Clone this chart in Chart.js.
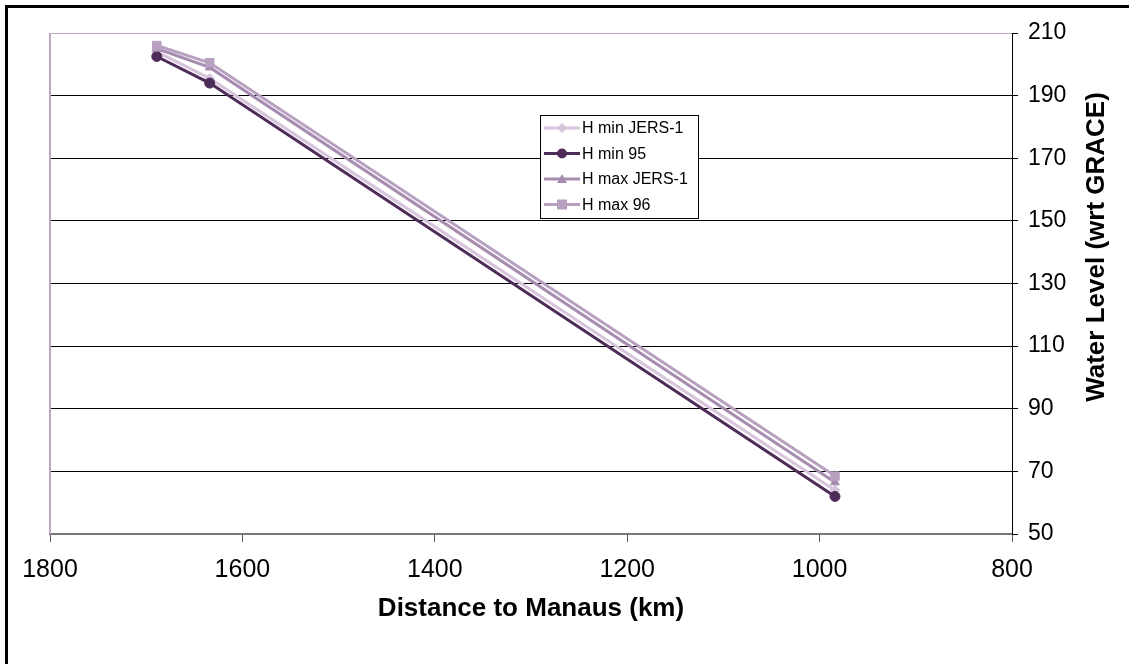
<!DOCTYPE html>
<html>
<head>
<meta charset="utf-8">
<script src="https://cdn.jsdelivr.net/npm/chart.js@4.4.1/dist/chart.umd.min.js"></script>
<style>
html, body { margin: 0; padding: 0; background: #fff; }
</style>
</head>
<body>
<canvas id="myChart" width="1129" height="664"></canvas>
<script>
// values
var distanceKm = [1689, 1634, 984];
var hMinJers = [204, 195.5, 64];
var hMin95 = [202.5, 194, 62];
var hMaxJers = [205, 199, 66.5];
var hMax96 = [206, 200.5, 68.5];
var seriesNames = ["H min JERS-1", "H min 95", "H max JERS-1", "H max 96"];
var xTicks = [1800, 1600, 1400, 1200, 1000, 800];
var yTicks = [50, 70, 90, 110, 130, 150, 170, 190, 210];

var colors = ['#D8C5DD', '#4E2C58', '#A68CAF', '#B8A0C0'];
var shapes = ['rectRot', 'circle', 'triangle', 'rect'];
var FONT = "Arial, 'Liberation Sans', sans-serif";
var LILAC = '#BFA8C6';

function pts(vals) {
    return distanceKm.map(function(d, i) { return {x: d, y: vals[i]}; });
}

function makeSet(i, vals) {
    return {
        label: seriesNames[i],
        data: pts(vals),
        showLine: true,
        borderColor: colors[i],
        backgroundColor: colors[i],
        borderWidth: 3,
        pointStyle: shapes[i],
        pointRadius: i == 3 ? 6 : 5,
        pointBorderWidth: 1,
        order: 4 - i
    };
}

function drawMarker(g, shape, x, y, r) {
    g.beginPath();
    if (shape == 'circle') {
        g.arc(x, y, r, 0, Math.PI * 2);
    } else if (shape == 'rect') {
        g.rect(x - r, y - r, r * 2, r * 2);
    } else if (shape == 'rectRot') {
        g.moveTo(x, y - r); g.lineTo(x + r, y); g.lineTo(x, y + r); g.lineTo(x - r, y); g.closePath();
    } else {
        g.moveTo(x, y - r); g.lineTo(x + r, y + r * 0.8); g.lineTo(x - r, y + r * 0.8); g.closePath();
    }
    g.fill();
}

// frame, plot background, left border, y title, legend box
var decor = {
    id: 'decor',
    beforeDraw: function(c) {
        var g = c.ctx;
        g.save();
        g.fillStyle = '#fff';
        g.fillRect(0, 0, c.width, c.height);
        g.restore();
    },
    beforeDatasetsDraw: function(c) {
        var g = c.ctx, a = c.chartArea;
        g.save();
        g.strokeStyle = LILAC;
        g.lineWidth = 2;
        g.beginPath();
        g.moveTo(a.left, a.bottom);
        g.lineTo(a.left, a.top);
        g.stroke();
        g.restore();
    },
    afterDraw: function(c) {
        var g = c.ctx;
        g.save();
        // outer frame (left + top only, the rest is cropped)
        g.fillStyle = '#000';
        g.fillRect(5, 5, 3, c.height - 5);
        g.fillRect(5, 5, c.width - 5, 3);

        // y axis title, reads bottom to top
        g.translate(1097, 247);
        g.rotate(-Math.PI / 2);
        g.font = 'bold 26px ' + FONT;
        g.fillStyle = '#000';
        g.textAlign = 'center';
        g.textBaseline = 'middle';
        g.fillText('Water Level (wrt GRACE)', 0, 0);
        g.restore();

        // legend
        var lx = 540, ly = 115, lw = 158, lh = 103, row = 25.5;
        g.save();
        g.fillStyle = '#fff';
        g.fillRect(lx, ly, lw, lh);
        g.strokeStyle = '#000';
        g.lineWidth = 1;
        g.strokeRect(lx + 0.5, ly + 0.5, lw, lh);
        g.font = '16px ' + FONT;
        g.textBaseline = 'middle';
        for (var i = 0; i < seriesNames.length; i++) {
            var y = ly + 13 + i * row;
            g.strokeStyle = colors[i];
            g.lineWidth = 3;
            g.beginPath();
            g.moveTo(lx + 4, y);
            g.lineTo(lx + 40, y);
            g.stroke();
            g.fillStyle = colors[i];
            drawMarker(g, shapes[i], lx + 22, y, 5);
            g.fillStyle = '#000';
            g.fillText(seriesNames[i], lx + 42, y + 1);
        }
        g.restore();
    }
};

var ctx = document.getElementById('myChart').getContext('2d');
var chart = new Chart(ctx, {
    type: 'scatter',
    data: {
        datasets: [
            makeSet(0, hMinJers),
            makeSet(1, hMin95),
            makeSet(2, hMaxJers),
            makeSet(3, hMax96)
        ]
    },
    options: {
        responsive: false,
        animation: false,
        layout: { padding: { left: 50, top: 33, right: 0, bottom: 0 } },
        plugins: {
            legend: { display: false },
            tooltip: { enabled: false }
        },
        scales: {
            x: {
                type: 'linear',
                reverse: true,
                min: 800,
                max: 1800,
                afterBuildTicks: function(s) { s.ticks = xTicks.map(function(v) { return {value: v}; }); },
                afterFit: function(s) { s.height = 130; },
                ticks: {
                    font: { family: FONT, size: 25 },
                    color: '#000',
                    padding: 13,
                    maxRotation: 0,
                    callback: function(v) { return String(v); }
                },
                grid: {
                    drawOnChartArea: false,
                    drawTicks: true,
                    tickLength: 8,
                    color: '#666',
                    tickColor: '#555'
                },
                border: { color: '#777', width: 2 },
                title: {
                    display: true,
                    text: 'Distance to Manaus (km)',
                    font: { family: FONT, size: 26, weight: 'bold' },
                    color: '#000',
                    padding: { top: 0, bottom: 40 }
                }
            },
            y: {
                position: 'right',
                min: 50,
                max: 210,
                afterBuildTicks: function(s) { s.ticks = yTicks.map(function(v) { return {value: v}; }); },
                afterFit: function(s) { s.width = 117; },
                ticks: {
                    font: { family: FONT, size: 23 },
                    color: '#000',
                    padding: 10,
                    callback: function(v) { return String(v); }
                },
                grid: {
                    color: function(c) {
                        if (c.tick && c.tick.value == 210) return LILAC;
                        return '#000';
                    },
                    tickColor: '#000',
                    tickLength: 6,
                    lineWidth: 1
                },
                border: { color: '#000', width: 1 }
            }
        }
    },
    plugins: [decor]
});
</script>
</body>
</html>
